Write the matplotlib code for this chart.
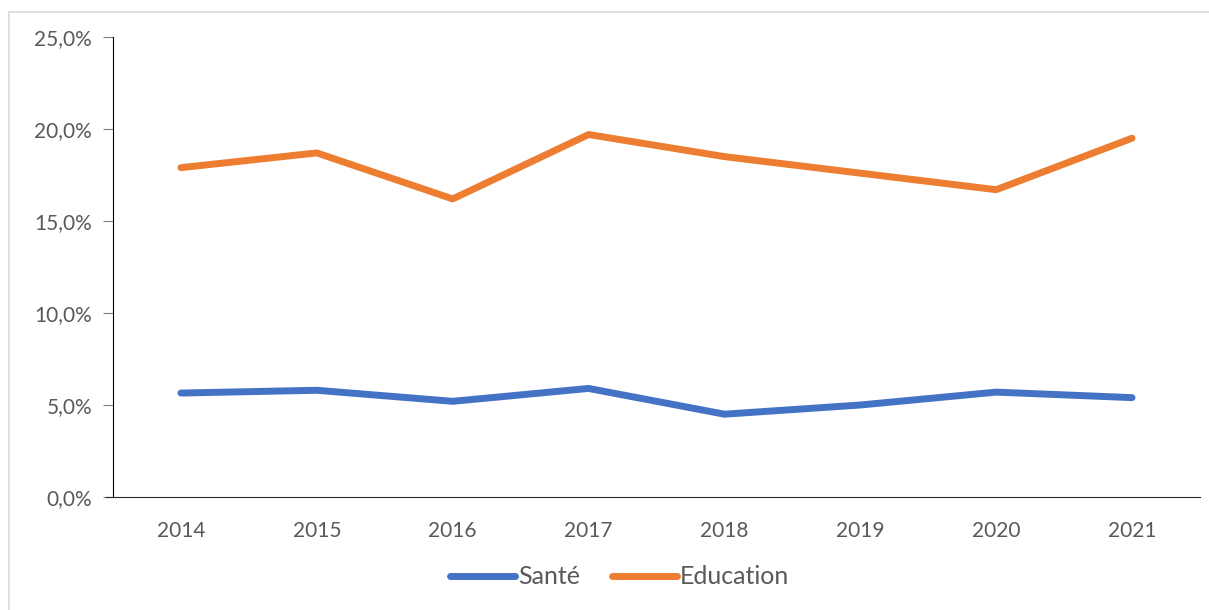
import matplotlib.pyplot as plt
from matplotlib.patches import Rectangle
from matplotlib.ticker import FuncFormatter

years = [2014, 2015, 2016, 2017, 2018, 2019, 2020, 2021]
sante = [5.65, 5.8, 5.2, 5.9, 4.5, 5.0, 5.7, 5.4]
education = [17.9, 18.7, 16.2, 19.7, 18.5, 17.6, 16.7, 19.5]

plt.rcParams['font.family'] = ['Lato', 'DejaVu Sans']
txt = '#595959'

fig = plt.figure(figsize=(12.09, 6.10), dpi=100)
fig.patches.append(Rectangle((9/1209, -0.1), 1.2, 0.1 + (610-12)/610, transform=fig.transFigure,
                             fill=False, edgecolor='#D9D9D9', linewidth=1.2))
ax = fig.add_axes([113/1209, (610-497)/610, (1200-113)/1209, 460/610])

ax.plot(years, sante, color='#4472C4', linewidth=5, solid_capstyle='round', label='Santé')
ax.plot(years, education, color='#ED7D31', linewidth=5, solid_capstyle='round', label='Education')

ax.set_xlim(2013.5, 2021.5)
ax.set_ylim(0, 25)
ax.set_xticks(years)
ax.set_yticks([0, 5, 10, 15, 20, 25])
ax.yaxis.set_major_formatter(FuncFormatter(lambda v, p: f'{v:.1f}%'.replace('.', ',')))
ax.tick_params(axis='x', length=0, pad=17, labelsize=15, labelcolor=txt)
ax.tick_params(axis='y', length=7, color='#7F7F7F', pad=8, labelsize=15, labelcolor=txt)
for s in ['top', 'right']:
    ax.spines[s].set_visible(False)
ax.spines['left'].set_color('black')
ax.spines['bottom'].set_color('#262626')
ax.plot([-0.0065, 0], [0, 0], transform=ax.transAxes, color='#262626', lw=0.8, clip_on=False)

leg = ax.legend(loc='upper center', bbox_to_anchor=(0.466, -0.1), ncol=2, frameon=False,
                fontsize=18, handlelength=2.6, handletextpad=0.1, columnspacing=1.3)
for t in leg.get_texts():
    t.set_color(txt)

fig.savefig('out.png', dpi=100)
